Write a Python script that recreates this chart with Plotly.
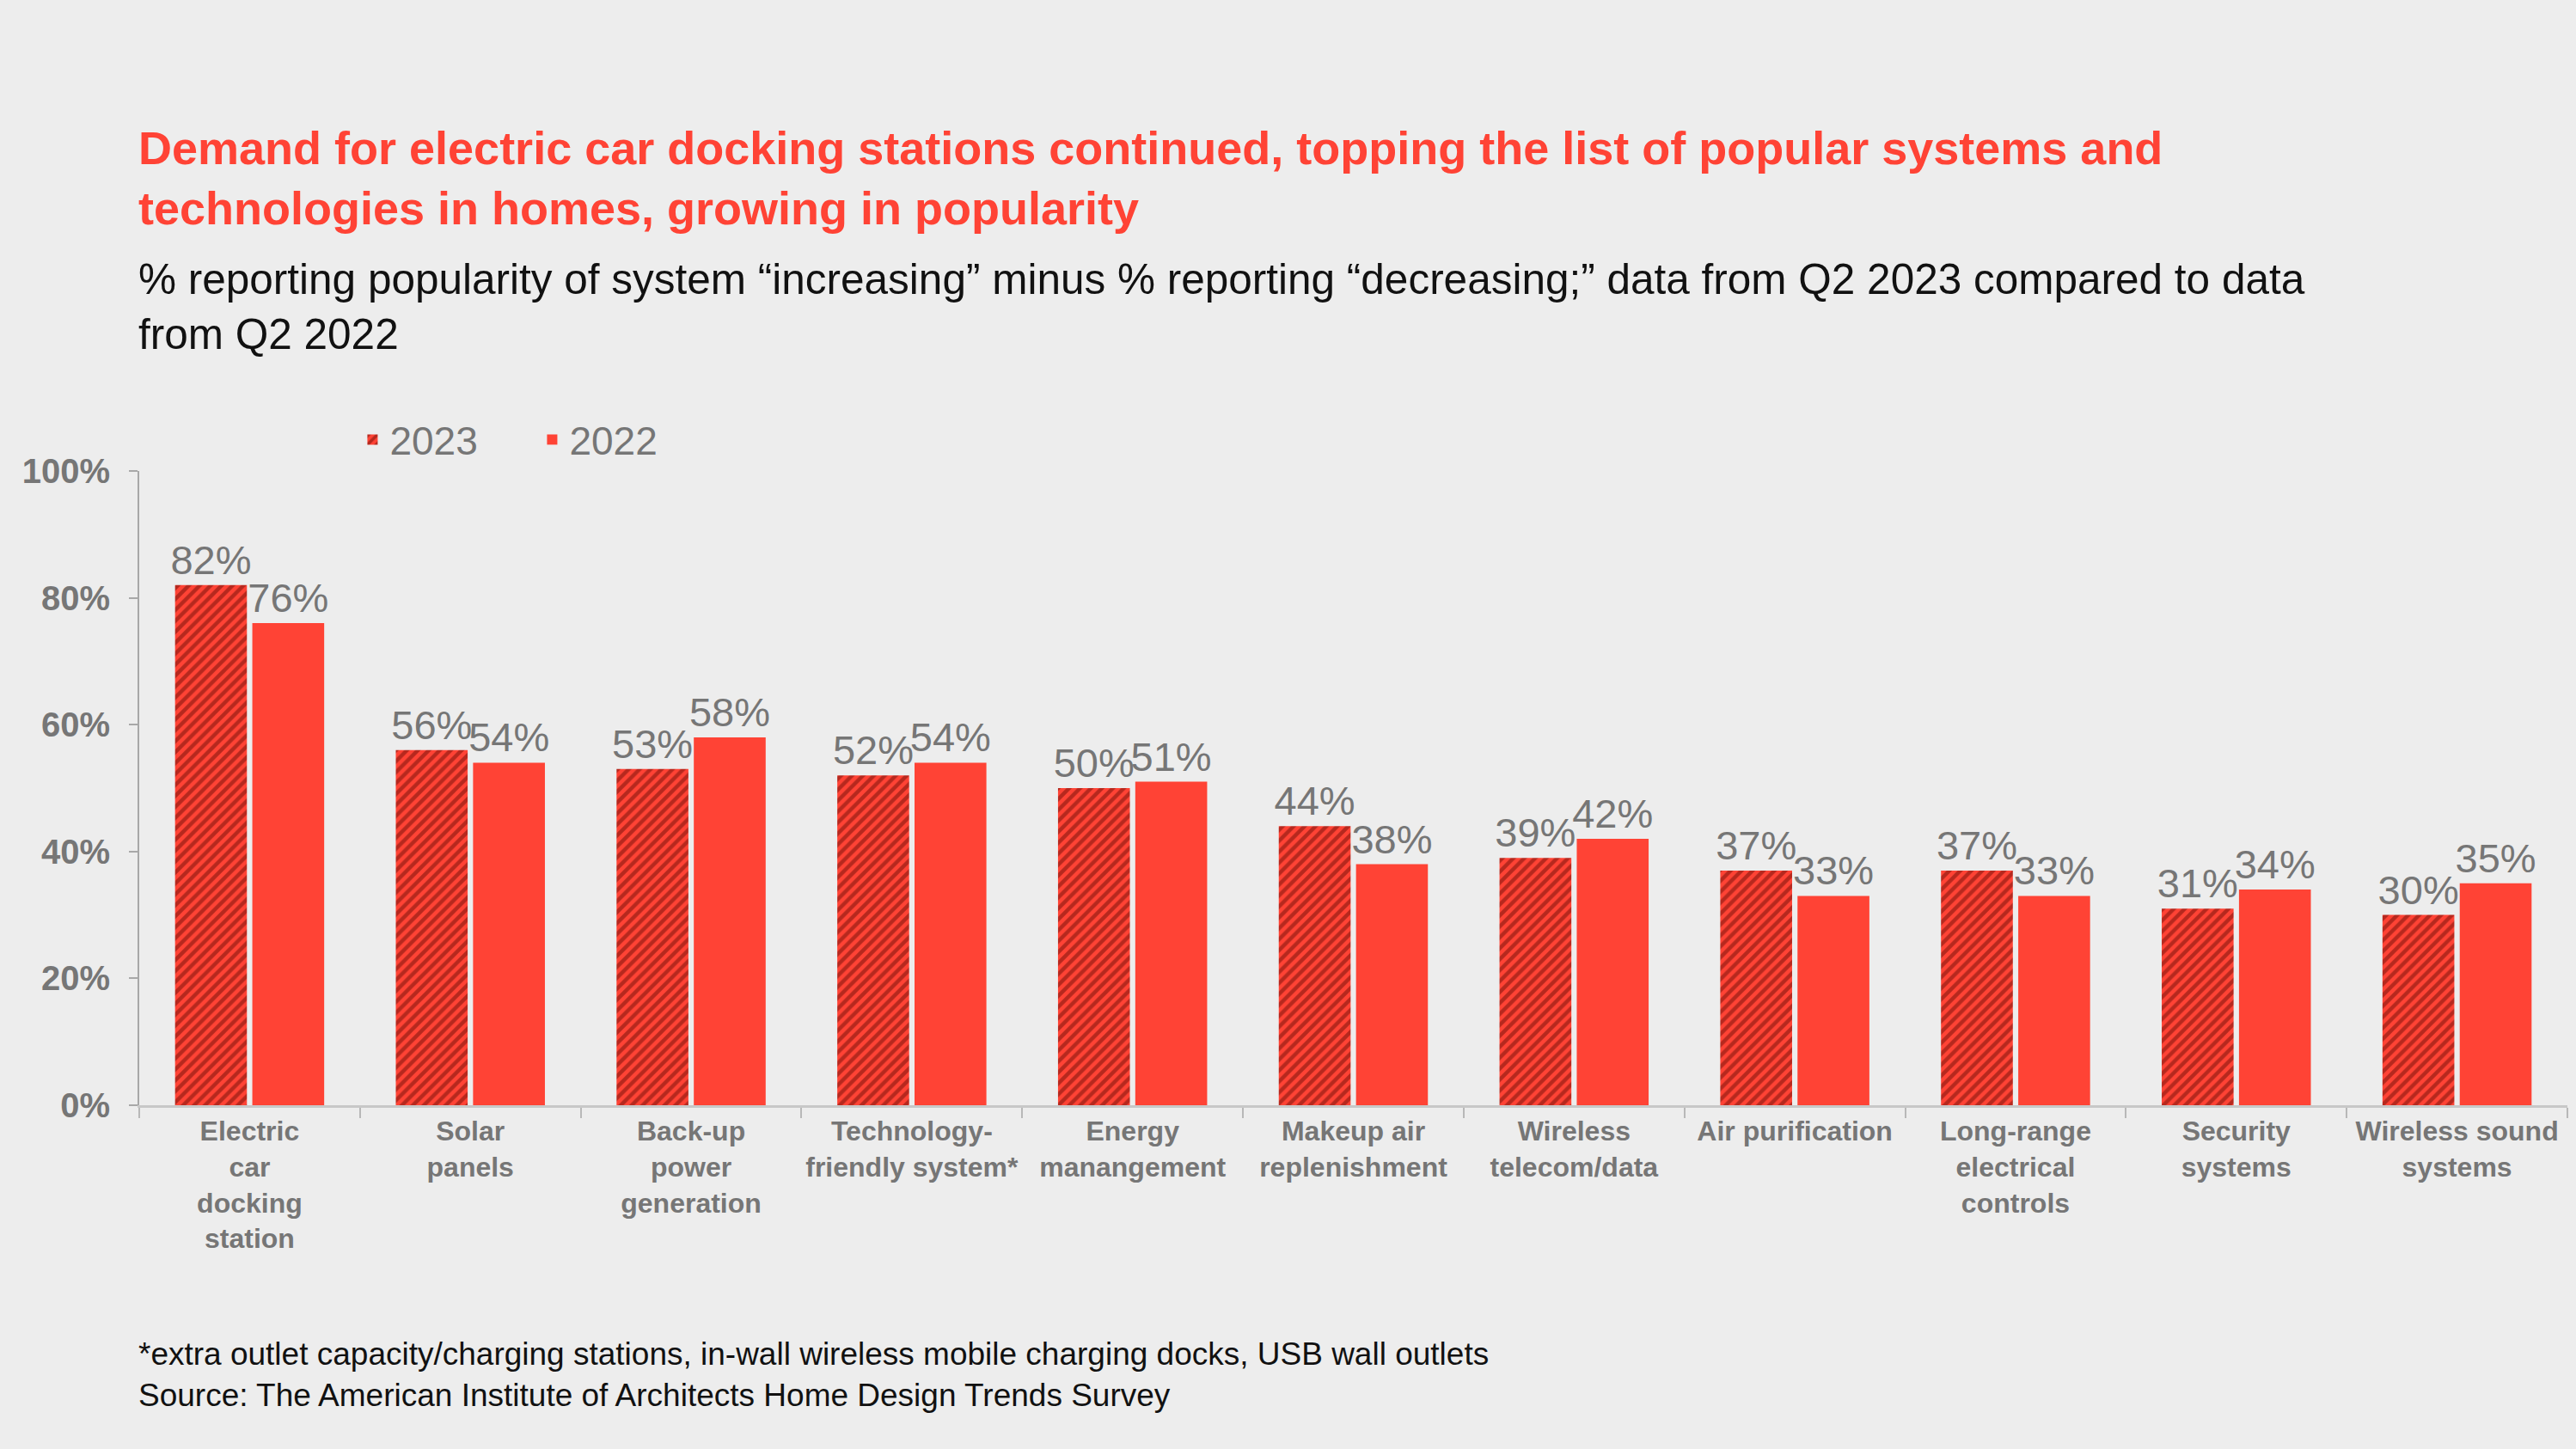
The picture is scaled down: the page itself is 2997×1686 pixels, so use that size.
import plotly.graph_objects as go

categories = [
    "Electric<br>car<br>docking<br>station",
    "Solar<br>panels",
    "Back-up<br>power<br>generation",
    "Technology-<br>friendly system*",
    "Energy<br>manangement",
    "Makeup air<br>replenishment",
    "Wireless<br>telecom/data",
    "Air purification",
    "Long-range<br>electrical<br>controls",
    "Security<br>systems",
    "Wireless sound<br>systems",
]
values_2023 = [82, 56, 53, 52, 50, 44, 39, 37, 37, 31, 30]
values_2022 = [76, 54, 58, 54, 51, 38, 42, 33, 33, 34, 35]
y_ticks = [0, 20, 40, 60, 80, 100]
y_tick_labels = ["0%", "20%", "40%", "60%", "80%", "100%"]

RED = "#FF4335"
DARK = "#6E0E08"
GRAY = "#767676"
BG = "#EDEDED"
FONT = "Liberation Sans, Arial, sans-serif"

fig = go.Figure()
fig.add_trace(go.Bar(
    name="2023", x=categories, y=values_2023,
    marker=dict(color=RED, line=dict(width=0),
                pattern=dict(shape="/", fgcolor=DARK, bgcolor=RED, size=9, solidity=0.5, fillmode="overlay")),
    text=[f"{v}%" for v in values_2023], textposition="outside", constraintext="none",
    textfont=dict(size=47, color=GRAY, family=FONT), cliponaxis=False,
))
fig.add_trace(go.Bar(
    name="2022", x=categories, y=values_2022,
    marker=dict(color=RED, line=dict(width=0)),
    text=[f"{v}%" for v in values_2022], textposition="outside", constraintext="none",
    textfont=dict(size=47, color=GRAY, family=FONT), cliponaxis=False,
))

fig.update_layout(
    width=2997, height=1686,
    paper_bgcolor=BG, plot_bgcolor=BG,
    margin=dict(l=162, r=10, t=548, b=400, autoexpand=False),
    barmode="group", bargap=0.30, bargroupgap=0.07,
    font=dict(family=FONT, color=GRAY),
    showlegend=True,
    legend=dict(orientation="h", x=0.089, y=1.0, xanchor="left", yanchor="bottom",
                font=dict(size=46, color=GRAY, family=FONT), bgcolor="rgba(0,0,0,0)",
                entrywidth=164, entrywidthmode="pixels", traceorder="normal"),
)
fig.update_yaxes(
    range=[0, 100], tickvals=y_ticks, ticktext=y_tick_labels,
    showgrid=False, zeroline=False, showline=True, linecolor="#A8A8A8", linewidth=2,
    ticks="outside", ticklen=10, tickcolor="#A8A8A8", tickwidth=2, ticklabelstandoff=14,
    tickfont=dict(size=40, color=GRAY, family=FONT, weight="bold"), automargin=False,
)
fig.update_xaxes(
    showgrid=False, showline=True, linecolor="#C8C8C8", linewidth=3,
    ticks="outside", ticklen=12, tickcolor="#B8B8B8", tickwidth=2, tickson="boundaries",
    tickangle=0, automargin=False,
    tickfont=dict(size=32, color=GRAY, family=FONT, weight="bold"),
)

fig.add_annotation(
    xref="paper", yref="paper", x=0, y=1, xanchor="left", yanchor="middle",
    xshift=-3, yshift=341,
    text="<b>Demand for electric car docking stations continued, topping the list of popular systems and<br>technologies in homes, growing in popularity</b>",
    showarrow=False, align="left",
    font=dict(size=54, color=RED, family=FONT),
)
fig.add_annotation(
    xref="paper", yref="paper", x=0, y=1, xanchor="left", yanchor="middle",
    xshift=-3, yshift=192,
    text="% reporting popularity of system “increasing” minus % reporting “decreasing;” data from Q2 2023 compared to data<br>from Q2 2022",
    showarrow=False, align="left",
    font=dict(size=49.5, color="#111111", family=FONT),
)
fig.add_annotation(
    xref="paper", yref="paper", x=0, y=0, xanchor="left", yanchor="middle",
    xshift=-3, yshift=-(1599 - 1286),
    text="*extra outlet capacity/charging stations, in-wall wireless mobile charging docks, USB wall outlets<br>Source: The American Institute of Architects Home Design Trends Survey",
    showarrow=False, align="left",
    font=dict(size=37, color="#111111", family=FONT),
)

fig.write_html(
    "out.html",
    config={"displayModeBar": False},
    post_script="document.body.style.margin='0';document.body.style.background='#EDEDED';document.body.style.overflow='hidden';",
)
